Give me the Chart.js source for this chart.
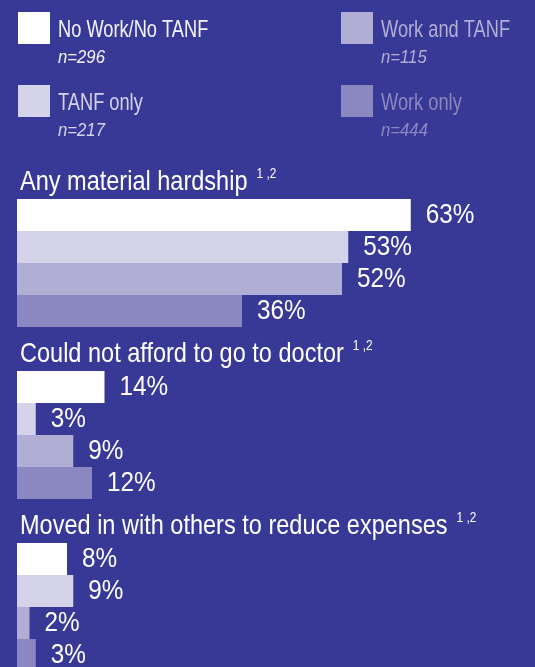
<!DOCTYPE html>
<html>
<head>
<meta charset="utf-8">
<script src="https://cdn.jsdelivr.net/npm/chart.js@4"></script>
<style>
  html, body { margin: 0; padding: 0; background: #383996; overflow: hidden; }
  #wrap { position: relative; width: 535px; height: 700px; }
</style>
</head>
<body>
<div id="wrap"><canvas id="chart"></canvas></div>
<script>
// categories and series
const groups = ["Any material hardship", "Could not afford to go to doctor", "Moved in with others to reduce expenses"];
const footnotes = ["1 ,2", "1 ,2", "1 ,2"];
const seriesNames = ["No Work/No TANF", "TANF only", "Work and TANF", "Work only"];
const sampleSizes = [296, 217, 115, 444];
const noWorkNoTanf = [63, 14, 8];
const tanfOnly = [53, 3, 9];
const workAndTanf = [52, 9, 2];
const workOnly = [36, 12, 3];

const colors = ["#ffffff", "#d5d3ea", "#b1aed6", "#8b87c1"];
const FAMILY = "'Liberation Sans', Arial, sans-serif";

// draw horizontally squeezed text (source font is a condensed face)
function squeezed(ctx, text, x, y, font, k, color) {
  ctx.save();
  ctx.font = font;
  ctx.fillStyle = color;
  ctx.translate(x, y);
  ctx.scale(k, 1);
  ctx.fillText(text, 0, 0);
  const w = ctx.measureText(text).width * k;
  ctx.restore();
  return w;
}

const legendPlugin = {
  id: "sideLegend",
  afterDraw(chart) {
    const ctx = chart.ctx;
    const slots = [[18, 12], [18, 85], [341, 12], [341, 85]];
    chart.data.datasets.forEach((ds, i) => {
      const [x, y] = slots[i];
      ctx.fillStyle = ds.backgroundColor;
      ctx.fillRect(x, y, 32, 32);
      ctx.textBaseline = "alphabetic";
      const txt = i === 0 ? "#f4f4fa" : ds.backgroundColor;
      squeezed(ctx, ds.label, x + 40, y + 25, "24px " + FAMILY, 0.76, txt);
      squeezed(ctx, "n=" + sampleSizes[i], x + 40, y + 51, "italic 19px " + FAMILY, 0.88, txt);
    });
  }
};

const labelPlugin = {
  id: "barText",
  afterDatasetsDraw(chart) {
    const ctx = chart.ctx;
    // group titles above the first bar of each category
    const first = chart.getDatasetMeta(0).data;
    first.forEach((el, i) => {
      const top = el.y - el.height / 2;
      ctx.textBaseline = "alphabetic";
      const w = squeezed(ctx, groups[i], 20, top - 9, "28px " + FAMILY, 0.84, "#ffffff");
      squeezed(ctx, footnotes[i], 20 + w + 9, top - 21, "14px " + FAMILY, 0.85, "#ffffff");
    });
    // value labels
    chart.data.datasets.forEach((ds, d) => {
      chart.getDatasetMeta(d).data.forEach((el, i) => {
        ctx.textBaseline = "middle";
        squeezed(ctx, ds.data[i] + "%", el.x + 15, el.y + 1, "27px " + FAMILY, 0.9, "#ffffff");
      });
    });
  }
};

const seriesValues = [noWorkNoTanf, tanfOnly, workAndTanf, workOnly];

new Chart(document.getElementById("chart"), {
  type: "bar",
  data: {
    labels: groups,
    datasets: seriesValues.map((vals, i) => ({
      label: seriesNames[i],
      data: vals,
      backgroundColor: colors[i],
      borderWidth: 0,
      barPercentage: 1,
      categoryPercentage: 0.744,
    })),
  },
  options: {
    indexAxis: "y",
    responsive: true,
    maintainAspectRatio: false,
    animation: false,
    layout: { padding: { left: 17, right: 18, top: 177, bottom: 7 } },
    scales: {
      x: { display: false, min: 0, max: 80 },
      y: { display: false },
    },
    plugins: {
      legend: { display: false },
      tooltip: { enabled: false },
    },
  },
  plugins: [legendPlugin, labelPlugin],
});
</script>
</body>
</html>
